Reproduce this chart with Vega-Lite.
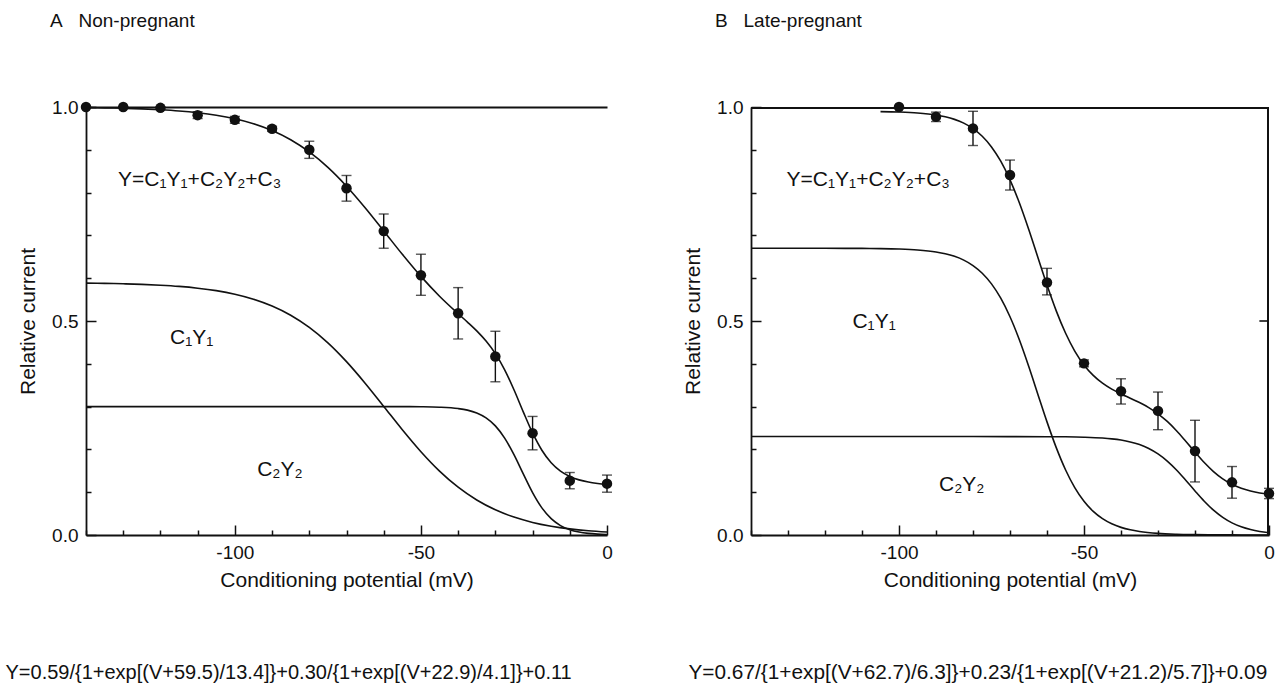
{
  "$schema": "https://vega.github.io/schema/vega-lite/v6.json",
  "autosize": {"type": "none"},
  "padding": {"left": 86, "top": 107, "right": 1201, "bottom": 593},
  "background": "white",
  "spacing": 144,
  "bounds": "flush",
  "config": {
    "view": {"stroke": null},
    "font": "Liberation Sans",
    "axis": {
      "domainColor": "#111", "domainWidth": 1.8, "tickColor": "#111", "tickWidth": 1.5,
      "labelColor": "#111", "titleColor": "#111", "labelFont": "Liberation Sans", "titleFont": "Liberation Sans",
      "grid": false, "labelFontSize": 19, "titleFontSize": 21, "titleFontWeight": "normal",
      "labelOverlap": false, "labelFlush": false
    },
    "title": {"font": "Liberation Sans", "fontSize": 19, "fontWeight": "normal", "color": "#111", "anchor": "start", "frame": "group"}
  },
  "datasets": {
    "curvesA": [
      {"series": "total", "V": -140, "I": 0.9986}, {"series": "total", "V": -135, "I": 0.9979}, {"series": "total", "V": -130, "I": 0.997},
      {"series": "total", "V": -125, "I": 0.9956}, {"series": "total", "V": -120, "I": 0.9936}, {"series": "total", "V": -115, "I": 0.9908},
      {"series": "total", "V": -110, "I": 0.9867}, {"series": "total", "V": -105, "I": 0.9809}, {"series": "total", "V": -100, "I": 0.9726},
      {"series": "total", "V": -95, "I": 0.961}, {"series": "total", "V": -90, "I": 0.945}, {"series": "total", "V": -85, "I": 0.9235},
      {"series": "total", "V": -80, "I": 0.895}, {"series": "total", "V": -75, "I": 0.8589}, {"series": "total", "V": -70, "I": 0.815},
      {"series": "total", "V": -65, "I": 0.7647}, {"series": "total", "V": -60, "I": 0.7105}, {"series": "total", "V": -55, "I": 0.6558},
      {"series": "total", "V": -50, "I": 0.6042}, {"series": "total", "V": -45, "I": 0.5579}, {"series": "total", "V": -40, "I": 0.517},
      {"series": "total", "V": -37.5, "I": 0.4974}, {"series": "total", "V": -35, "I": 0.4768}, {"series": "total", "V": -32.5, "I": 0.453},
      {"series": "total", "V": -30, "I": 0.4237}, {"series": "total", "V": -27.5, "I": 0.3859}, {"series": "total", "V": -25, "I": 0.3394},
      {"series": "total", "V": -22.5, "I": 0.2878}, {"series": "total", "V": -20, "I": 0.2384}, {"series": "total", "V": -17.5, "I": 0.198},
      {"series": "total", "V": -15, "I": 0.1687}, {"series": "total", "V": -12.5, "I": 0.1492}, {"series": "total", "V": -10, "I": 0.1367},
      {"series": "total", "V": -7.5, "I": 0.1288}, {"series": "total", "V": -5, "I": 0.1237}, {"series": "total", "V": -2.5, "I": 0.1204},
      {"series": "total", "V": 0, "I": 0.118},
      {"series": "c1", "V": -140, "I": 0.5886}, {"series": "c1", "V": -135, "I": 0.5879}, {"series": "c1", "V": -130, "I": 0.587},
      {"series": "c1", "V": -125, "I": 0.5856}, {"series": "c1", "V": -120, "I": 0.5836}, {"series": "c1", "V": -115, "I": 0.5808},
      {"series": "c1", "V": -110, "I": 0.5767}, {"series": "c1", "V": -105, "I": 0.5709}, {"series": "c1", "V": -100, "I": 0.5626},
      {"series": "c1", "V": -95, "I": 0.551}, {"series": "c1", "V": -90, "I": 0.535}, {"series": "c1", "V": -85, "I": 0.5135},
      {"series": "c1", "V": -80, "I": 0.485}, {"series": "c1", "V": -75, "I": 0.4489}, {"series": "c1", "V": -70, "I": 0.405},
      {"series": "c1", "V": -65, "I": 0.3547}, {"series": "c1", "V": -60, "I": 0.3005}, {"series": "c1", "V": -55, "I": 0.2459},
      {"series": "c1", "V": -50, "I": 0.1946}, {"series": "c1", "V": -45, "I": 0.1493}, {"series": "c1", "V": -40, "I": 0.1116},
      {"series": "c1", "V": -35, "I": 0.0817}, {"series": "c1", "V": -30, "I": 0.0588}, {"series": "c1", "V": -25, "I": 0.0418},
      {"series": "c1", "V": -20, "I": 0.0294}, {"series": "c1", "V": -15, "I": 0.0206}, {"series": "c1", "V": -10, "I": 0.0143},
      {"series": "c1", "V": -5, "I": 0.0099}, {"series": "c1", "V": 0, "I": 0.0069},
      {"series": "c2", "V": -140, "I": 0.3}, {"series": "c2", "V": -120, "I": 0.3}, {"series": "c2", "V": -100, "I": 0.3},
      {"series": "c2", "V": -80, "I": 0.3}, {"series": "c2", "V": -60, "I": 0.2999}, {"series": "c2", "V": -55, "I": 0.2999},
      {"series": "c2", "V": -50, "I": 0.2996}, {"series": "c2", "V": -45, "I": 0.2986}, {"series": "c2", "V": -40, "I": 0.2954},
      {"series": "c2", "V": -37.5, "I": 0.2917}, {"series": "c2", "V": -35, "I": 0.2851}, {"series": "c2", "V": -32.5, "I": 0.2736},
      {"series": "c2", "V": -30, "I": 0.2549}, {"series": "c2", "V": -27.5, "I": 0.2263}, {"series": "c2", "V": -25, "I": 0.1876},
      {"series": "c2", "V": -22.5, "I": 0.1427}, {"series": "c2", "V": -20, "I": 0.099}, {"series": "c2", "V": -17.5, "I": 0.0634},
      {"series": "c2", "V": -15, "I": 0.0381}, {"series": "c2", "V": -12.5, "I": 0.022}, {"series": "c2", "V": -10, "I": 0.0124},
      {"series": "c2", "V": -7.5, "I": 0.0069}, {"series": "c2", "V": -5, "I": 0.0038}, {"series": "c2", "V": -2.5, "I": 0.0021},
      {"series": "c2", "V": 0, "I": 0.0011}
    ],
    "curvesB": [
      {"series": "total", "V": -105, "I": 0.9892}, {"series": "total", "V": -100, "I": 0.9882},
      {"series": "total", "V": -95, "I": 0.986}, {"series": "total", "V": -90, "I": 0.9813}, {"series": "total", "V": -87.5, "I": 0.9772},
      {"series": "total", "V": -85, "I": 0.9711}, {"series": "total", "V": -82.5, "I": 0.9623}, {"series": "total", "V": -80, "I": 0.9496},
      {"series": "total", "V": -77.5, "I": 0.9316}, {"series": "total", "V": -75, "I": 0.9067}, {"series": "total", "V": -72.5, "I": 0.8733},
      {"series": "total", "V": -70, "I": 0.8299}, {"series": "total", "V": -67.5, "I": 0.7768}, {"series": "total", "V": -65, "I": 0.7155},
      {"series": "total", "V": -62.5, "I": 0.6497}, {"series": "total", "V": -60, "I": 0.584}, {"series": "total", "V": -57.5, "I": 0.5237},
      {"series": "total", "V": -55, "I": 0.4719}, {"series": "total", "V": -52.5, "I": 0.4298}, {"series": "total", "V": -50, "I": 0.3973},
      {"series": "total", "V": -47.5, "I": 0.3728}, {"series": "total", "V": -45, "I": 0.3546}, {"series": "total", "V": -42.5, "I": 0.3407},
      {"series": "total", "V": -40, "I": 0.3296}, {"series": "total", "V": -37.5, "I": 0.3196}, {"series": "total", "V": -35, "I": 0.3094},
      {"series": "total", "V": -32.5, "I": 0.2977}, {"series": "total", "V": -30, "I": 0.2832}, {"series": "total", "V": -27.5, "I": 0.2653},
      {"series": "total", "V": -25, "I": 0.2437}, {"series": "total", "V": -22.5, "I": 0.2191}, {"series": "total", "V": -20, "I": 0.1937},
      {"series": "total", "V": -17.5, "I": 0.1694}, {"series": "total", "V": -15, "I": 0.1483}, {"series": "total", "V": -12.5, "I": 0.1313},
      {"series": "total", "V": -10, "I": 0.1185}, {"series": "total", "V": -7.5, "I": 0.1092}, {"series": "total", "V": -5, "I": 0.1028},
      {"series": "total", "V": -2.5, "I": 0.0983}, {"series": "total", "V": 0, "I": 0.0954},
      {"series": "c1", "V": -140, "I": 0.67}, {"series": "c1", "V": -130, "I": 0.67}, {"series": "c1", "V": -120, "I": 0.6699},
      {"series": "c1", "V": -110, "I": 0.6696}, {"series": "c1", "V": -105, "I": 0.6692}, {"series": "c1", "V": -100, "I": 0.6682},
      {"series": "c1", "V": -95, "I": 0.666}, {"series": "c1", "V": -90, "I": 0.6613}, {"series": "c1", "V": -87.5, "I": 0.6572},
      {"series": "c1", "V": -85, "I": 0.6511}, {"series": "c1", "V": -82.5, "I": 0.6423}, {"series": "c1", "V": -80, "I": 0.6296},
      {"series": "c1", "V": -77.5, "I": 0.6116}, {"series": "c1", "V": -75, "I": 0.5867}, {"series": "c1", "V": -72.5, "I": 0.5533},
      {"series": "c1", "V": -70, "I": 0.5099}, {"series": "c1", "V": -67.5, "I": 0.4568}, {"series": "c1", "V": -65, "I": 0.3955},
      {"series": "c1", "V": -62.5, "I": 0.3297}, {"series": "c1", "V": -60, "I": 0.2643}, {"series": "c1", "V": -57.5, "I": 0.2041},
      {"series": "c1", "V": -55, "I": 0.1525}, {"series": "c1", "V": -52.5, "I": 0.1108}, {"series": "c1", "V": -50, "I": 0.0788},
      {"series": "c1", "V": -47.5, "I": 0.0551}, {"series": "c1", "V": -45, "I": 0.0381}, {"series": "c1", "V": -42.5, "I": 0.0261},
      {"series": "c1", "V": -40, "I": 0.0178}, {"series": "c1", "V": -37.5, "I": 0.0121}, {"series": "c1", "V": -35, "I": 0.0082},
      {"series": "c1", "V": -30, "I": 0.0037}, {"series": "c1", "V": -25, "I": 0.0017}, {"series": "c1", "V": -20, "I": 0.0008},
      {"series": "c1", "V": -15, "I": 0.0003}, {"series": "c1", "V": -10, "I": 0.0002}, {"series": "c1", "V": -5, "I": 0.0001},
      {"series": "c1", "V": 0, "I": 0.0},
      {"series": "c2", "V": -140, "I": 0.23}, {"series": "c2", "V": -120, "I": 0.23}, {"series": "c2", "V": -100, "I": 0.23},
      {"series": "c2", "V": -80, "I": 0.23}, {"series": "c2", "V": -60, "I": 0.2297}, {"series": "c2", "V": -55, "I": 0.2294},
      {"series": "c2", "V": -50, "I": 0.2285}, {"series": "c2", "V": -45, "I": 0.2265}, {"series": "c2", "V": -42.5, "I": 0.2246},
      {"series": "c2", "V": -40, "I": 0.2218}, {"series": "c2", "V": -37.5, "I": 0.2175}, {"series": "c2", "V": -35, "I": 0.2112},
      {"series": "c2", "V": -32.5, "I": 0.2022}, {"series": "c2", "V": -30, "I": 0.1895}, {"series": "c2", "V": -27.5, "I": 0.1728},
      {"series": "c2", "V": -25, "I": 0.152}, {"series": "c2", "V": -22.5, "I": 0.128}, {"series": "c2", "V": -20, "I": 0.1029},
      {"series": "c2", "V": -17.5, "I": 0.0789}, {"series": "c2", "V": -15, "I": 0.058}, {"series": "c2", "V": -12.5, "I": 0.0411},
      {"series": "c2", "V": -10, "I": 0.0283}, {"series": "c2", "V": -7.5, "I": 0.0191}, {"series": "c2", "V": -5, "I": 0.0127},
      {"series": "c2", "V": -2.5, "I": 0.0083}, {"series": "c2", "V": 0, "I": 0.0054}
    ],
    "pointsA": [
      {"V": -140, "I": 1.0, "lo": 1.0, "hi": 1.0},
      {"V": -130, "I": 1.0, "lo": 1.0, "hi": 1.0},
      {"V": -120, "I": 0.998, "lo": 0.995, "hi": 1.0},
      {"V": -110, "I": 0.981, "lo": 0.973, "hi": 0.989},
      {"V": -100, "I": 0.97, "lo": 0.962, "hi": 0.978},
      {"V": -90, "I": 0.949, "lo": 0.943, "hi": 0.955},
      {"V": -80, "I": 0.9, "lo": 0.88, "hi": 0.92},
      {"V": -70, "I": 0.81, "lo": 0.78, "hi": 0.84},
      {"V": -60, "I": 0.71, "lo": 0.67, "hi": 0.75},
      {"V": -50, "I": 0.607, "lo": 0.56, "hi": 0.656},
      {"V": -40, "I": 0.518, "lo": 0.458, "hi": 0.578},
      {"V": -30, "I": 0.417, "lo": 0.358, "hi": 0.476},
      {"V": -20, "I": 0.238, "lo": 0.199, "hi": 0.277},
      {"V": -10, "I": 0.127, "lo": 0.108, "hi": 0.146},
      {"V": 0, "I": 0.12, "lo": 0.1, "hi": 0.14}
    ],
    "pointsB": [
      {"V": -100, "I": 1.0, "lo": 1.0, "hi": 1.0},
      {"V": -90, "I": 0.977, "lo": 0.966, "hi": 0.988},
      {"V": -80, "I": 0.95, "lo": 0.91, "hi": 0.99},
      {"V": -70, "I": 0.841, "lo": 0.806, "hi": 0.876},
      {"V": -60, "I": 0.59, "lo": 0.561, "hi": 0.623},
      {"V": -50, "I": 0.401, "lo": 0.393, "hi": 0.409},
      {"V": -40, "I": 0.336, "lo": 0.306, "hi": 0.365},
      {"V": -30, "I": 0.29, "lo": 0.246, "hi": 0.334},
      {"V": -20, "I": 0.196, "lo": 0.124, "hi": 0.268},
      {"V": -10, "I": 0.123, "lo": 0.086, "hi": 0.16},
      {"V": 0, "I": 0.097, "lo": 0.085, "hi": 0.109}
    ]
  },
  "hconcat": [
    {
      "width": 521,
      "height": 428,
      "title": {"text": "A\u00a0\u00a0\u00a0Non-pregnant", "dx": -36, "offset": 67},
      "resolve": {"axis": {"x": "independent", "y": "independent"}},
      "layer": [
        {
          "data": {"name": "curvesA"},
          "mark": {"type": "line", "color": "#111", "strokeWidth": 1.6, "interpolate": "monotone", "clip": false},
          "encoding": {
            "x": {"field": "V", "type": "quantitative", "scale": {"domain": [-140, 0], "nice": false, "zero": false},
              "axis": {"orient": "bottom", "values": [-140, -130, -120, -110, -100, -90, -80, -70, -60, -50, -40, -30, -20, -10, 0],
                "labelExpr": "datum.value % 50 === 0 ? '' + datum.value : ''",
                "tickSize": {"condition": {"test": "datum.value % 50 === 0", "value": -10}, "value": -5},
                "labelPadding": 18, "title": "Conditioning potential (mV)", "titleY": 45, "titleBaseline": "middle"}},
            "y": {"field": "I", "type": "quantitative", "scale": {"domain": [0, 1], "nice": false, "zero": false},
              "axis": {"orient": "left", "values": [0, 0.1, 0.2, 0.3, 0.4, 0.5, 0.6, 0.7, 0.8, 0.9, 1],
                "labelExpr": "(datum.value === 0 || datum.value === 0.5 || datum.value === 1) ? format(datum.value, '.1f') : ''",
                "tickSize": {"condition": {"test": "datum.value === 0 || datum.value === 0.5 || datum.value === 1", "value": -10}, "value": -5},
                "labelPadding": 18, "title": "Relative current", "titleX": -58, "titleY": 214, "titleBaseline": "middle", "titleAlign": "center"}},
            "detail": {"field": "series"}
          }
        },
        {
          "data": {"name": "pointsA"},
          "mark": {"type": "rule", "color": "#111", "strokeWidth": 1.4, "clip": false},
          "encoding": {
            "x": {"field": "V", "type": "quantitative", "scale": {"domain": [-140, 0], "nice": false, "zero": false},
              "axis": {"orient": "top", "domain": true, "ticks": false, "labels": false, "title": null}},
            "y": {"field": "lo", "type": "quantitative", "scale": {"domain": [0, 1], "nice": false, "zero": false}, "axis": null},
            "y2": {"field": "hi"}
          }
        },
        {
          "data": {"name": "pointsA"},
          "mark": {"type": "tick", "orient": "horizontal", "color": "#111", "size": 10, "thickness": 1.4, "clip": false},
          "encoding": {
            "x": {"field": "V", "type": "quantitative", "scale": {"domain": [-140, 0], "nice": false, "zero": false}, "axis": null},
            "y": {"field": "lo", "type": "quantitative", "scale": {"domain": [0, 1], "nice": false, "zero": false}, "axis": null}
          }
        },
        {
          "data": {"name": "pointsA"},
          "mark": {"type": "tick", "orient": "horizontal", "color": "#111", "size": 10, "thickness": 1.4, "clip": false},
          "encoding": {
            "x": {"field": "V", "type": "quantitative", "scale": {"domain": [-140, 0], "nice": false, "zero": false}, "axis": null},
            "y": {"field": "hi", "type": "quantitative", "scale": {"domain": [0, 1], "nice": false, "zero": false}, "axis": null}
          }
        },
        {
          "data": {"name": "pointsA"},
          "mark": {"type": "circle", "color": "#111", "size": 110, "opacity": 1, "clip": false},
          "encoding": {
            "x": {"field": "V", "type": "quantitative", "scale": {"domain": [-140, 0], "nice": false, "zero": false},
              "axis": {"orient": "bottom", "domain": false, "ticks": false, "labels": false,
                "title": "Y=0.59/{1+exp[(V+59.5)/13.4]}+0.30/{1+exp[(V+22.9)/4.1]}+0.11",
                "titleFont": "Liberation Sans", "titleFontSize": 20, "titleAlign": "left",
                "titleX": -81, "titleY": 137, "titleBaseline": "middle"}},
            "y": {"field": "I", "type": "quantitative", "scale": {"domain": [0, 1], "nice": false, "zero": false}, "axis": null}
          }
        },
        {
          "data": {"values": [{"t": "Y=C₁Y₁+C₂Y₂+C₃"}]},
          "mark": {"type": "text", "align": "left", "baseline": "middle", "fontSize": 21, "color": "#111"},
          "encoding": {
            "x": {"datum": -131.4, "type": "quantitative", "scale": {"domain": [-140, 0], "nice": false, "zero": false}, "axis": null},
            "y": {"datum": 0.829, "type": "quantitative", "scale": {"domain": [0, 1], "nice": false, "zero": false}, "axis": null},
            "text": {"field": "t"}
          }
        },
        {
          "data": {"values": [{"t": "C₁Y₁"}]},
          "mark": {"type": "text", "align": "left", "baseline": "middle", "fontSize": 21, "color": "#111"},
          "encoding": {
            "x": {"datum": -117.4, "type": "quantitative", "scale": {"domain": [-140, 0], "nice": false, "zero": false}, "axis": null},
            "y": {"datum": 0.46, "type": "quantitative", "scale": {"domain": [0, 1], "nice": false, "zero": false}, "axis": null},
            "text": {"field": "t"}
          }
        },
        {
          "data": {"values": [{"t": "C₂Y₂"}]},
          "mark": {"type": "text", "align": "left", "baseline": "middle", "fontSize": 21, "color": "#111"},
          "encoding": {
            "x": {"datum": -94, "type": "quantitative", "scale": {"domain": [-140, 0], "nice": false, "zero": false}, "axis": null},
            "y": {"datum": 0.152, "type": "quantitative", "scale": {"domain": [0, 1], "nice": false, "zero": false}, "axis": null},
            "text": {"field": "t"}
          }
        }
      ]
    },
    {
      "width": 518,
      "height": 428,
      "title": {"text": "B\u00a0\u00a0\u00a0Late-pregnant", "dx": -36, "offset": 67},
      "resolve": {"axis": {"x": "independent", "y": "independent"}},
      "layer": [
        {
          "data": {"name": "curvesB"},
          "mark": {"type": "line", "color": "#111", "strokeWidth": 1.6, "interpolate": "monotone", "clip": false},
          "encoding": {
            "x": {"field": "V", "type": "quantitative", "scale": {"domain": [-140, 0], "nice": false, "zero": false},
              "axis": {"orient": "bottom", "values": [-140, -130, -120, -110, -100, -90, -80, -70, -60, -50, -40, -30, -20, -10, 0],
                "labelExpr": "datum.value % 50 === 0 ? '' + datum.value : ''",
                "tickSize": {"condition": {"test": "datum.value % 50 === 0", "value": -10}, "value": -5},
                "labelPadding": 18, "title": "Conditioning potential (mV)", "titleY": 45, "titleBaseline": "middle"}},
            "y": {"field": "I", "type": "quantitative", "scale": {"domain": [0, 1], "nice": false, "zero": false},
              "axis": {"orient": "left", "values": [0, 0.1, 0.2, 0.3, 0.4, 0.5, 0.6, 0.7, 0.8, 0.9, 1],
                "labelExpr": "(datum.value === 0 || datum.value === 0.5 || datum.value === 1) ? format(datum.value, '.1f') : ''",
                "tickSize": {"condition": {"test": "datum.value === 0 || datum.value === 0.5 || datum.value === 1", "value": -10}, "value": -5},
                "labelPadding": 18, "title": "Relative current", "titleX": -58, "titleY": 214, "titleBaseline": "middle", "titleAlign": "center"}},
            "detail": {"field": "series"}
          }
        },
        {
          "data": {"name": "pointsB"},
          "mark": {"type": "rule", "color": "#111", "strokeWidth": 1.4, "clip": false},
          "encoding": {
            "x": {"field": "V", "type": "quantitative", "scale": {"domain": [-140, 0], "nice": false, "zero": false}, "axis": null},
            "y": {"field": "lo", "type": "quantitative", "scale": {"domain": [0, 1], "nice": false, "zero": false}, "axis": null},
            "y2": {"field": "hi"}
          }
        },
        {
          "data": {"name": "pointsB"},
          "mark": {"type": "tick", "orient": "horizontal", "color": "#111", "size": 10, "thickness": 1.4, "clip": false},
          "encoding": {
            "x": {"field": "V", "type": "quantitative", "scale": {"domain": [-140, 0], "nice": false, "zero": false}, "axis": null},
            "y": {"field": "lo", "type": "quantitative", "scale": {"domain": [0, 1], "nice": false, "zero": false}, "axis": null}
          }
        },
        {
          "data": {"name": "pointsB"},
          "mark": {"type": "tick", "orient": "horizontal", "color": "#111", "size": 10, "thickness": 1.4, "clip": false},
          "encoding": {
            "x": {"field": "V", "type": "quantitative", "scale": {"domain": [-140, 0], "nice": false, "zero": false}, "axis": null},
            "y": {"field": "hi", "type": "quantitative", "scale": {"domain": [0, 1], "nice": false, "zero": false}, "axis": null}
          }
        },
        {
          "data": {"name": "pointsB"},
          "mark": {"type": "circle", "color": "#111", "size": 110, "opacity": 1, "clip": false},
          "encoding": {
            "x": {"field": "V", "type": "quantitative", "scale": {"domain": [-140, 0], "nice": false, "zero": false},
              "axis": {"orient": "bottom", "domain": false, "ticks": false, "labels": false,
                "title": "Y=0.67/{1+exp[(V+62.7)/6.3]}+0.23/{1+exp[(V+21.2)/5.7]}+0.09",
                "titleFont": "Liberation Sans", "titleFontSize": 20.8, "titleAlign": "left",
                "titleX": -63, "titleY": 137, "titleBaseline": "middle"}},
            "y": {"field": "I", "type": "quantitative", "scale": {"domain": [0, 1], "nice": false, "zero": false}, "axis": null}
          }
        },
        {
          "data": {"values": [{"edge": "top border"}]},
          "mark": {"type": "rule", "color": "#111", "strokeWidth": 2, "clip": false},
          "encoding": {
            "x": {"datum": -140, "type": "quantitative", "scale": {"domain": [-140, 0], "nice": false, "zero": false}, "axis": null},
            "x2": {"datum": 0},
            "y": {"datum": 0.9975, "type": "quantitative", "scale": {"domain": [0, 1], "nice": false, "zero": false}, "axis": null}
          }
        },
        {
          "data": {"values": [{"edge": "right border"}]},
          "mark": {"type": "rule", "color": "#111", "strokeWidth": 2, "clip": false},
          "encoding": {
            "x": {"datum": -0.27, "type": "quantitative", "scale": {"domain": [-140, 0], "nice": false, "zero": false}, "axis": null},
            "y": {"datum": 0, "type": "quantitative", "scale": {"domain": [0, 1], "nice": false, "zero": false}, "axis": null},
            "y2": {"datum": 1}
          }
        },
        {
          "data": {"values": [{"edge": "right tick"}]},
          "mark": {"type": "rule", "color": "#111", "strokeWidth": 1.6, "clip": false},
          "encoding": {
            "x": {"datum": -2.6, "type": "quantitative", "scale": {"domain": [-140, 0], "nice": false, "zero": false}, "axis": null},
            "x2": {"datum": -0.27},
            "y": {"datum": 0.5, "type": "quantitative", "scale": {"domain": [0, 1], "nice": false, "zero": false}, "axis": null}
          }
        },
        {
          "data": {"values": [{"t": "Y=C₁Y₁+C₂Y₂+C₃"}]},
          "mark": {"type": "text", "align": "left", "baseline": "middle", "fontSize": 21, "color": "#111"},
          "encoding": {
            "x": {"datum": -130.4, "type": "quantitative", "scale": {"domain": [-140, 0], "nice": false, "zero": false}, "axis": null},
            "y": {"datum": 0.829, "type": "quantitative", "scale": {"domain": [0, 1], "nice": false, "zero": false}, "axis": null},
            "text": {"field": "t"}
          }
        },
        {
          "data": {"values": [{"t": "C₁Y₁"}]},
          "mark": {"type": "text", "align": "left", "baseline": "middle", "fontSize": 21, "color": "#111"},
          "encoding": {
            "x": {"datum": -112.6, "type": "quantitative", "scale": {"domain": [-140, 0], "nice": false, "zero": false}, "axis": null},
            "y": {"datum": 0.498, "type": "quantitative", "scale": {"domain": [0, 1], "nice": false, "zero": false}, "axis": null},
            "text": {"field": "t"}
          }
        },
        {
          "data": {"values": [{"t": "C₂Y₂"}]},
          "mark": {"type": "text", "align": "left", "baseline": "middle", "fontSize": 21, "color": "#111"},
          "encoding": {
            "x": {"datum": -89.2, "type": "quantitative", "scale": {"domain": [-140, 0], "nice": false, "zero": false}, "axis": null},
            "y": {"datum": 0.117, "type": "quantitative", "scale": {"domain": [0, 1], "nice": false, "zero": false}, "axis": null},
            "text": {"field": "t"}
          }
        }
      ]
    }
  ]
}
